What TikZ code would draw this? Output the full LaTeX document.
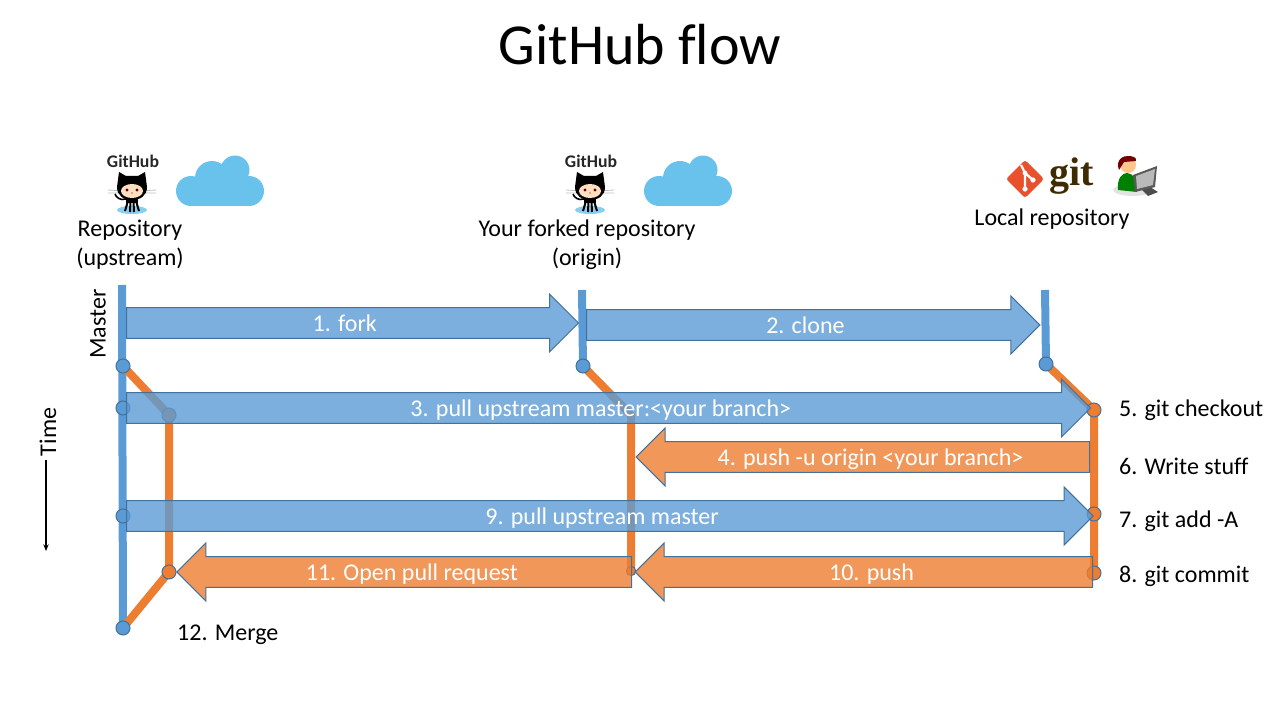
\documentclass[tikz,border=0pt]{standalone}
\usepackage{fontspec}
\setmainfont[Ligatures=NoCommon]{Carlito}
\newfontfamily\gitfont{Liberation Serif}
\usetikzlibrary{shapes.arrows,arrows.meta,backgrounds}

\definecolor{bluefill}{HTML}{5B9BD5}
\definecolor{bluedark}{HTML}{41719C}
\definecolor{orangefill}{HTML}{ED7D31}
\definecolor{clouds}{HTML}{69C2EC}
\definecolor{gitred}{HTML}{E9502C}
\definecolor{gitbrown}{HTML}{3E2C00}

\tikzset{
    label/.style={font=\fontsize{18}{21.6}\selectfont, align=center},
    sidelabel/.style={label, anchor=west},
    bigarrow/.style={single arrow, draw, anchor=tail, inner sep=0pt, text=white,
        font=\fontsize{18}{21}\selectfont, text height=17.3pt, text depth=4.7pt,
        minimum width=43.5pt, line width=0.75pt, fill opacity=0.8, text opacity=1,
        single arrow head extend=10pt},
    bluearrow/.style={bigarrow, fill=bluefill, draw=bluedark},
    orangearrow/.style={bigarrow, fill=orangefill, draw=bluedark, shape border rotate=180},
    bluedot/.style={circle, inner sep=0pt, minimum size=10.5pt, fill=bluefill, draw=bluedark, line width=0.75pt},
    orangedot/.style={bluedot, fill=orangefill},
    masterline/.style={draw=bluefill, line width=6pt},
    branchline/.style={draw=orangefill, line width=6pt, line join=round}
}

% Cloud, origin at its lower left
\newcommand{\cloudicon}[2]{
    \begin{scope}[shift={(#1,#2)}]
        \fill[clouds] (15,-15) circle (15);
        \fill[clouds] (36,-28) circle (17);
        \fill[clouds] (59,-36) circle (14.5);
        \fill[clouds] (73,-15) circle (15);
        \fill[clouds] (15,-25) rectangle (73,0);
    \end{scope}
}

% Octocat with its word mark, origin at the centre of the head
\newcommand{\octocat}[2]{
    \begin{scope}[shift={(#1,#2)}]
        \node[font=\bfseries\fontsize{13.3}{14}\selectfont, text=black!85] at (1,-26) {GitHub};
        \fill[clouds!80] (0,23) ellipse (15 and 4);
        \draw[gray!50, line width=0.6pt] (-24,3) -- (-8,4) (-24,6) -- (-8,6) (8,4) -- (24,3) (8,6) -- (24,6);
        \draw[black, line width=1.2pt] (-6,12) .. controls (-12,14) and (-16,10) .. (-17,7);
        \fill[black] (-6,10) rectangle (6,16);
        \draw[black, line width=1.5pt] (-4,14) -- (-7,24) (-1.5,14) -- (-2,25) (1.5,14) -- (2,25) (4,14) -- (7,24);
        \fill[black] (-13,-15) -- (-6,-11) -- (6,-11) -- (13,-15) -- (15,0)
            .. controls (15,9) and (8,13) .. (0,13)
            .. controls (-8,13) and (-15,9) .. (-15,0) -- cycle;
        \fill[orange!25!white] (0,4) ellipse (11 and 7);
        \fill[black!60!red] (-5,3) circle (1.6) (5,3) circle (1.6);
        \fill[black!60!red] (0,6) circle (0.7);
    \end{scope}
}

\begin{document}
\begin{tikzpicture}[x=0.75pt, y=-0.75pt]
    \useasboundingbox (0,0) rectangle (1280,720);

    % Title
    \node[font=\fontsize{43.5}{44}\selectfont] (title) at (640,45) {GitHub flow};

    % Logos above the three repositories
    \octocat{132}{187}
    \octocat{590}{187}
    \cloudicon{176}{206}
    \cloudicon{644}{206}

    % Git logo
    \fill[gitred, rounded corners=2pt] (1025,160) -- (1044,179) -- (1025,198) -- (1006,179) -- cycle;
    \draw[white, line width=1.7pt] (1021,165) -- (1025,173) -- (1025,189) (1025,173) -- (1033,180);
    \fill[white] (1025,173) circle (2.4) (1025,189) circle (2.6) (1033,180) circle (2.6);
    \node[font=\gitfont\bfseries\fontsize{30}{30}\selectfont, text=gitbrown] (gitword) at (1072,176) {git};

    % User at a screen
    \fill[gray!22] (1133,190) ellipse (20 and 6);
    \fill[green!50!black] (1118,190) .. controls (1117,178) and (1122,173) .. (1127,173)
        .. controls (1133,173) and (1137,180) .. (1137,192) -- cycle;
    \fill[orange!45!white] (1128,165) circle (8);
    \fill[red!45!black] (1119,170) .. controls (1115,160) and (1123,155) .. (1130,156)
        .. controls (1136,157) and (1137,159) .. (1136,161) -- (1124,162) -- cycle;
    \fill[gray!60!black] (1142,190) -- (1150,187) -- (1158,192) -- (1148,196) -- cycle;
    \fill[gray!70!black] (1133,175) -- (1157,166) -- (1155,187) -- (1135,192) -- cycle;
    \fill[gray!55] (1136,176) -- (1155,169) -- (1153,185) -- (1137,189) -- cycle;

    % Names of the repositories
    \node[label] (upstream) at (130,245) {Repository\\(upstream)};
    \node[label] (origin) at (587,245) {Your forked repository\\(origin)};
    \node[label] (local) at (1052,219) {Local repository};

    % Axis labels
    \node[label, rotate=90] (master) at (98,324) {Master};
    \node[label, rotate=90] (time) at (48,432) {Time};
    \coordinate (timestart) at (46,460);
    \coordinate (timeend) at (46,551);
    \draw[-{Stealth[length=5pt,width=4pt]}, line width=0.9pt] (timestart) -- (timeend);

    % Commits
    \coordinate (uptop) at (122,285);
    \coordinate (origintop) at (582,290);
    \coordinate (localtop) at (1045,290);
    \node[bluedot] (up1) at (123,366) {};
    \node[bluedot] (up2) at (123,408) {};
    \node[bluedot] (up3) at (123,516) {};
    \node[bluedot] (up4) at (123,628) {};
    \node[bluedot] (orig1) at (583,366) {};
    \node[bluedot] (loc1) at (1046,364) {};
    \node[orangedot] (ub1) at (169,415) {};
    \node[orangedot] (ub2) at (169,572) {};
    \node[orangedot, minimum size=7pt] (ob2) at (631,571) {};
    \coordinate (ob1) at (631,415);
    \node[orangedot] (lb1) at (1094,410) {};
    \node[orangedot] (lb2) at (1094,514) {};
    \node[orangedot] (lb3) at (1094,573) {};

    % Branches, under the commits
    \begin{scope}[on background layer]
        \draw[masterline] (uptop) -- (up4.center);
        \draw[masterline] (origintop) -- (orig1.center);
        \draw[masterline] (localtop) -- (loc1.center);
        \draw[branchline] (up1.center) -- (ub1.center) -- (ub2.center) -- (up4.center);
        \draw[branchline] (orig1.center) -- (ob1) -- (ob2.center);
        \draw[branchline] (loc1.center) -- (lb1.center) -- (lb2.center) -- (lb3.center);
    \end{scope}

    % Steps
    \node[bluearrow, minimum height=339pt] (fork) at (126,323) {1. fork};
    \node[bluearrow, minimum height=340pt] (clone) at (586,325) {2. clone};
    \node[bluearrow, minimum height=723pt] (pull) at (126,408) {3. pull upstream master:<your branch>};
    \node[orangearrow, minimum height=340pt] (push) at (1090,457) {4. push -u origin <your branch>};
    \node[bluearrow, minimum height=725pt] (pullb) at (126,516) {9. pull upstream master};
    \node[orangearrow, minimum height=343pt] (pushb) at (1093,572) {10. push};
    \node[orangearrow, minimum height=341pt] (request) at (632,572) {11. Open pull request};

    % Commands at the local repository
    \node[sidelabel] (checkout) at (1114.5,410) {5. git checkout};
    \node[sidelabel] (write) at (1114.5,466) {6. Write stuff};
    \node[sidelabel] (add) at (1114.5,521) {7. git add -A};
    \node[sidelabel] (commit) at (1114.5,576) {8. git commit};
    \node[sidelabel] (merge) at (172.5,635) {12. Merge};
\end{tikzpicture}
\end{document}
